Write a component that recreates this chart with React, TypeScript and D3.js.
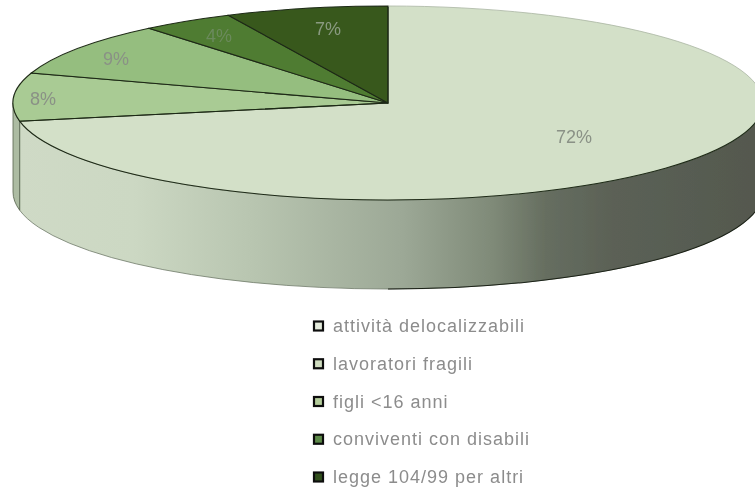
import * as d3 from "d3"

const categories = ["attività delocalizzabili", "lavoratori fragili", "figli <16 anni", "conviventi con disabili", "legge 104/99 per altri"]
const values = [72, 8, 9, 4, 7]
const percentLabels = ["72%", "8%", "9%", "4%", "7%"]
const sliceColors = ["#d3e0c8", "#a9cb94", "#95be7f", "#4f7c30", "#39591f"]
const legendColors = ["#e4ebdc", "#cfdcbf", "#b4cd9b", "#5d8a49", "#30501e"]
const labelColors = ["#8a9186", "#8a9186", "#8a9186", "#6b8a5c", "#8a9a80"]
const labelX = [574, 43, 116, 219, 328]
const labelY = [143, 105, 65, 42, 35]

const width = 755
const height = 490
const cx = 388
const cy = 103
const rx = 375
const ry = 97
const depth = 89

const pie = d3.pie<number>().sort(null).value((d) => d)
const slices = pie(values)

const px = (a: number) => cx + rx * Math.sin(a)
const py = (a: number) => cy - ry * Math.cos(a)

// ellipse arc, always clockwise as seen on screen
const topPath = (s: d3.PieArcDatum<number>) => {
  const large = s.endAngle - s.startAngle > Math.PI ? 1 : 0
  return `M${cx},${cy}L${px(s.startAngle)},${py(s.startAngle)}A${rx},${ry} 0 ${large} 1 ${px(s.endAngle)},${py(s.endAngle)}Z`
}

// outer wall between two angles, only the front half of the ellipse shows
const wallPath = (a0: number, a1: number) => {
  return `M${px(a0)},${py(a0)}A${rx},${ry} 0 0 1 ${px(a1)},${py(a1)}L${px(a1)},${py(a1) + depth}A${rx},${ry} 0 0 0 ${px(a0)},${py(a0) + depth}Z`
}

const frontArc = (a0: number, a1: number, dy = 0) => {
  return `M${px(a0)},${py(a0) + dy}A${rx},${ry} 0 0 1 ${px(a1)},${py(a1) + dy}`
}

const legendY = d3.scalePoint<string>().domain(categories).range([326, 477])

const App = () => {
  const main = slices[0]
  const second = slices[1]
  const right = Math.PI / 2
  const bottom = Math.PI
  return (
    <svg width={width} height={height} style={{ position: "absolute", left: 0, top: 0, background: "#fff" }}>
      <defs>
        <linearGradient id="wall" gradientUnits="userSpaceOnUse" x1={13} x2={763} y1={0} y2={0}>
          <stop offset="0" stopColor="#cfdac6" />
          <stop offset="0.16" stopColor="#ccd8c3" />
          <stop offset="0.32" stopColor="#b8c5b0" />
          <stop offset="0.52" stopColor="#9ca896" />
          <stop offset="0.64" stopColor="#7f8a78" />
          <stop offset="0.71" stopColor="#666e60" />
          <stop offset="0.8" stopColor="#5b6156" />
          <stop offset="1" stopColor="#54584e" />
        </linearGradient>
        <filter id="soft" x="-2%" y="-2%" width="104%" height="104%">
          <feGaussianBlur stdDeviation="0.45" />
        </filter>
      </defs>

      <g filter="url(#soft)">
        <path d={wallPath(right, main.endAngle)} fill="url(#wall)" stroke="#6f7a68" strokeWidth={0.8} />
        <path d={wallPath(second.startAngle, (3 * Math.PI) / 2)} fill="#adbca3" stroke="#55624d" strokeWidth={0.8} />
        {/* the right half of the lower rim is drawn darker */}
        <path d={frontArc(right, bottom, depth)} fill="none" stroke="#1c2218" strokeWidth={1.1} />

        {slices.map((s, i) => (
          <path key={i} d={topPath(s)} fill={sliceColors[i]} stroke={i === 0 ? "none" : "#1f2b18"} strokeWidth={1.1} />
        ))}
        {/* back of the big slice has no visible outline, only the front rim */}
        <path d={frontArc(right, main.endAngle)} fill="none" stroke="#1f2b18" strokeWidth={1.1} />
        <path d={`M${px(main.endAngle)},${py(main.endAngle)}L${cx},${cy}L${cx},${cy - ry}`} fill="none" stroke="#1f2b18" strokeWidth={1.1} />
        <path d={frontArc(0, right)} fill="none" stroke="#aab5a2" strokeWidth={0.8} />

        <g fontFamily="Liberation Sans, sans-serif" fontSize={18} textAnchor="middle">
          {percentLabels.map((l, i) => (
            <text key={l} x={labelX[i]} y={labelY[i]} fill={labelColors[i]}>
              {l}
            </text>
          ))}
        </g>

        {categories.map((c, i) => (
          <g key={c} transform={`translate(0,${legendY(c)})`}>
            <rect x={314} y={-4.5} width={9} height={9} fill={legendColors[i]} stroke="#111" strokeWidth={2.2} />
            <text x={333} y={6} fontFamily="Liberation Sans, sans-serif" fontSize={18} letterSpacing={1} fill="#8c8c8c">
              {c}
            </text>
          </g>
        ))}
      </g>
    </svg>
  )
}

export default App
